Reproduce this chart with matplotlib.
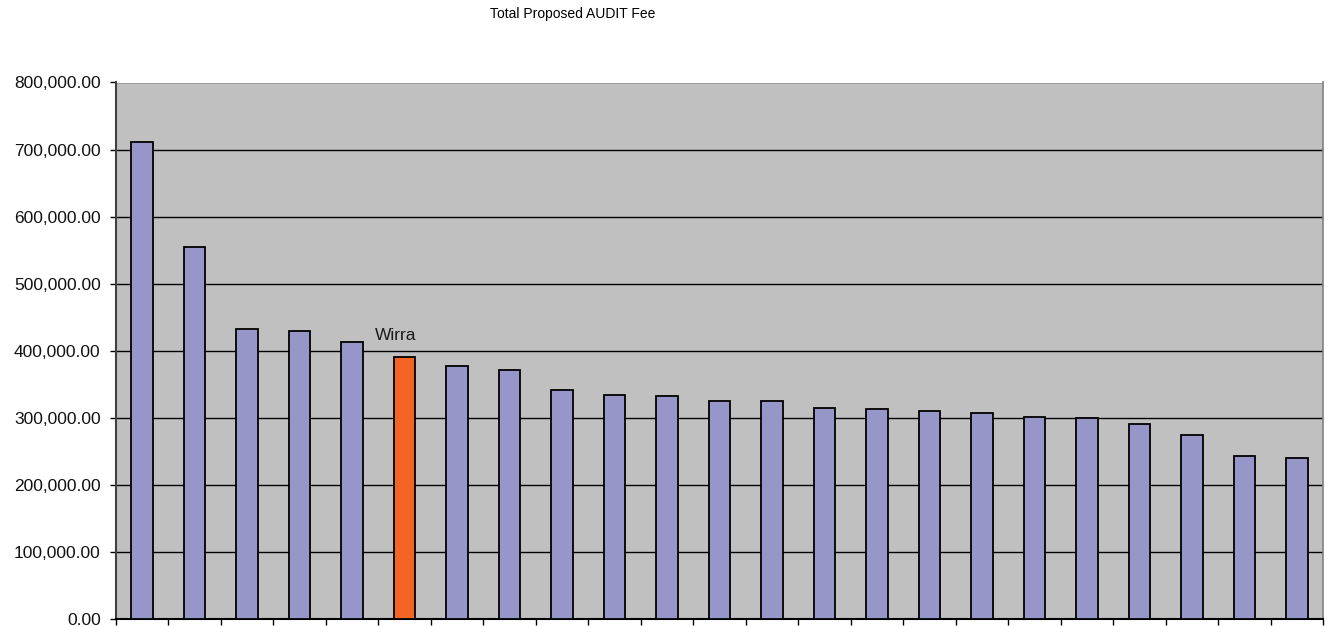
import matplotlib
matplotlib.use("Agg")
import matplotlib.pyplot as plt
import numpy as np

plt.rcParams['font.family'] = ['Liberation Sans', 'DejaVu Sans']

# Proposed audit fee per council, sorted descending
councils = [f"Council {i}" for i in range(1, 24)]
councils[5] = "Wirra"
fees = [712000, 554000, 433000, 429000, 413000, 390000, 377000, 371000,
        341000, 334000, 332000, 325000, 325000, 314500, 313500, 310500,
        306500, 301500, 299000, 291500, 275000, 242500, 240500]
highlight = "Wirra"

bar_color = "#9696C8"
highlight_color = "#F26522"

fig = plt.figure(figsize=(13.31, 6.27), dpi=100)
ax = fig.add_axes([116 / 1331, 8 / 627, (1323 - 116) / 1331, (619 - 82.5) / 627])
ax.set_facecolor("#C0C0C0")

x = np.arange(len(fees))
colors = [highlight_color if c == highlight else bar_color for c in councils]
ax.bar(x, fees, width=0.41, color=colors, edgecolor="black", linewidth=1.3, zorder=3)

ax.set_xlim(-0.5, len(fees) - 0.5)
ax.set_ylim(0, 800000)
ax.set_yticks(np.arange(0, 800001, 100000))
ax.set_yticklabels([f"{v:,.2f}" for v in np.arange(0, 800001, 100000)],
                   fontsize=12.5, color="#111111")
ax.yaxis.grid(True, color="black", linewidth=1.0, zorder=1)
ax.set_axisbelow(True)

# category boundary ticks on the x axis
ax.set_xticks(np.arange(-0.5, len(fees), 1.0))
ax.set_xticklabels([])
ax.tick_params(axis="x", direction="out", length=4, width=1, color="black")
ax.tick_params(axis="y", direction="out", length=4, width=1, color="black", pad=7)

ax.spines["top"].set_visible(False)
ax.spines["right"].set_color("#808080")
ax.spines["right"].set_linewidth(1.2)
ax.spines["left"].set_color("#404040")
ax.spines["left"].set_linewidth(1.5)
ax.spines["bottom"].set_color("black")
ax.spines["bottom"].set_linewidth(1.5)

idx = councils.index(highlight)
ax.annotate(highlight, xy=(idx, fees[idx]), xytext=(-9, 14),
            textcoords="offset pixels", ha="center", va="bottom",
            fontsize=12.5, color="#1a1a1a")

fig.text(572.5 / 1331, 1 - 14 / 627, "Total Proposed AUDIT Fee",
         ha="center", va="center", fontsize=10, color="black")

fig.savefig("out.png", dpi=100, facecolor="white")
